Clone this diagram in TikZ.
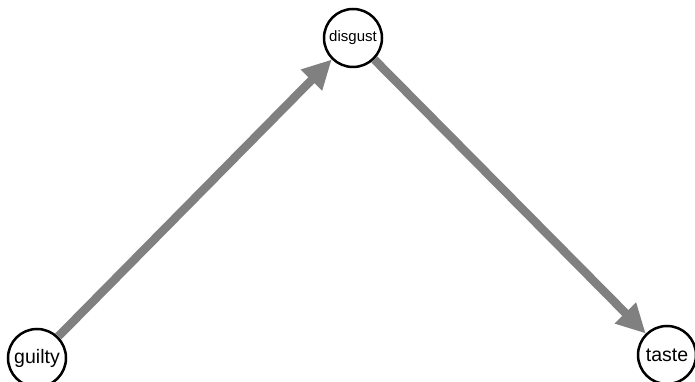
\documentclass[tikz,border=0pt]{standalone}
\usepackage{fontspec}
\setmainfont{Liberation Sans}
\usetikzlibrary{arrows.meta}

\begin{document}
\begin{tikzpicture}[
  x=1pt,y=1pt,
  emo/.style={draw,circle,line width=2.5pt,fill=white,
              minimum size=58pt,inner sep=0pt,font=\fontsize{19.5}{20}\selectfont},
  emosmall/.style={emo,font=\fontsize{15}{16}\selectfont},
  arr/.style={-{Triangle[length=29pt,width=28pt]},line width=8.5pt,draw=gray}
]
\useasboundingbox (0,0) rectangle (695,382);
% --- nodes ---
\node[emo](guilty)       at(37,24){guilty};
\node[emosmall](disgust) at(353,344){disgust};
\node[emo](taste)        at(667,27){taste};
% edges
\foreach \s/\t in {guilty/disgust,disgust/taste}
  \draw[arr](\s)--(\t);
\end{tikzpicture}
\end{document}
